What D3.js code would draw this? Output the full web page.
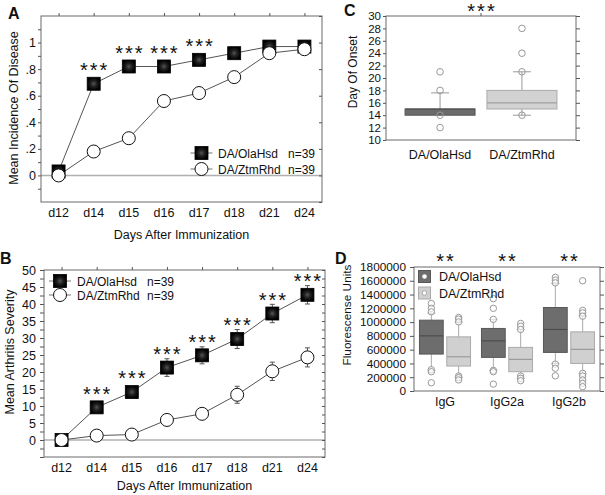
<!DOCTYPE html>
<html><head><meta charset="utf-8">
<script src="https://cdn.jsdelivr.net/npm/d3@7"></script>
<style>body{margin:0;background:#fff} svg text{font-family:"Liberation Sans",Arial,sans-serif;fill:#111}</style>
</head><body><svg id="c" width="605" height="495"></svg>
<script>
// ---------- DATA ----------
const days = ["d12","d14","d15","d16","d17","d18","d21","d24"];
const incOla = [0.03,0.69,0.82,0.82,0.87,0.92,0.97,0.97];
const incZtm = [0.0,0.18,0.28,0.56,0.62,0.74,0.92,0.95];
const incStars = ["","***","***","***","***","","",""];
const incTicks = [-0.1,0,0.1,0.2,0.3,0.4,0.5,0.6,0.7,0.8,0.9,1.0,1.1];
const incLabels = {"0":"0","0.2":".2","0.4":".4","0.6":".6","0.8":".8","1":"1"};

const sevOla = [0,9.6,14.1,21.3,24.9,29.7,37.2,42.7];
const sevOlaErr = [0,1.2,1.5,2.6,2.5,2.8,2.7,2.7];
const sevZtm = [0,1.3,1.6,5.9,7.7,13.3,20.2,24.3];
const sevZtmErr = [0,0.8,1.0,1.2,1.5,2.5,2.7,2.8];
const sevStars = ["","***","***","***","***","***","***","***"];
const sevTicks = [0,5,10,15,20,25,30,35,40,45,50];

const strains = ["DA/OlaHsd","DA/ZtmRhd"];
const legendN = ["n=39","n=39"];

const onsetQ1 = [14,15];
const onsetMed = [15,16];
const onsetQ3 = [15,18];
const onsetLo = [14,14];
const onsetHi = [17.6,21];
const onsetOut = [[21,18,14,12],[28,24,21,14]];
const onsetTicks = [10,12,14,16,18,20,22,24,26,28,30];

const isotypes = ["IgG","IgG2a","IgG2b"];
const olaQ1 = [536000,488000,560000];
const olaMed = [800000,728000,893000];
const olaQ3 = [1028000,908000,1212000];
const olaLo = [300000,300000,400000];
const olaHi = [1130000,1040000,1560000];
const olaOut = [[1270000,1200000,1150000,310000,280000,120000],
                [1340000,1200000,1040000,300000,280000,100000],
                [1650000,1610000,1570000,390000,330000,220000]];
const ztmQ1 = [362000,280000,400000];
const ztmMed = [497000,459000,604000];
const ztmQ3 = [786000,633000,859000];
const ztmLo = [200000,180000,250000];
const ztmHi = [1000000,890000,1090000];
const ztmOut = [[1067000,1043000,1003000,217000,193000,160000],
                [980000,940000,893000,217000,184000,149000],
                [1600000,1170000,1134000,1086000,256000,217000,159000,111000,62000]];
const fluoTicks = [0,200000,400000,600000,800000,1000000,1200000,1400000,1600000,1800000];
const isoStars = ["**","**","**"];

// ---------- DRAW ----------
const svg = d3.select("#c");
svg.append("rect").attr("width",605).attr("height",495).attr("fill","#fff");
const defs = svg.append("defs");
const rg = defs.append("radialGradient").attr("id","sqg");
rg.append("stop").attr("offset","0%").attr("stop-color","#555");
rg.append("stop").attr("offset","45%").attr("stop-color","#222");
rg.append("stop").attr("offset","100%").attr("stop-color","#000");

const FRAME = "#6a6a6a";
const STAR_FS = 20;
function frame(g,x0,x1,y0,y1){
  g.append("rect").attr("x",x0).attr("y",y0).attr("width",x1-x0).attr("height",y1-y0)
   .attr("fill","none").attr("stroke",FRAME).attr("stroke-width",1);
}
function styleAxis(g,fs){
  g.select(".domain").remove();
  g.attr("font-family","Liberation Sans, Arial, sans-serif").attr("font-size",fs).attr("color","#555");
  g.selectAll("text").attr("fill","#111");
}
function square(g,x,y,s){
  g.append("rect").attr("x",x-s/2).attr("y",y-s/2).attr("width",s).attr("height",s)
   .attr("fill","url(#sqg)").attr("stroke","#000").attr("stroke-width",0.8);
}
function circ(g,x,y,r){
  g.append("circle").attr("cx",x).attr("cy",y).attr("r",r).attr("fill","#fff").attr("stroke","#111").attr("stroke-width",1);
}
function star(g,x,yc,t){
  g.append("text").attr("x",x+1).attr("y",yc+0.57*STAR_FS).attr("text-anchor","middle")
   .attr("font-size",STAR_FS).attr("letter-spacing",2).attr("fill","#222").text(t);
}

function linePanel(o){
  const g = svg.append("g");
  const x = d3.scalePoint().domain(days).range([o.x0,o.x1]).padding(0.5);
  const y = d3.scaleLinear().domain(o.dom).range([o.y1,o.y0]);
  g.append("line").attr("x1",o.x0).attr("x2",o.x1).attr("y1",y(0)).attr("y2",y(0))
   .attr("stroke","#b0b0b0").attr("stroke-width",1.5);
  frame(g,o.x0,o.x1,o.y0,o.y1);
  const la = g.append("g").attr("transform",`translate(${o.x0},0)`)
    .call(d3.axisLeft(y).tickValues(o.ticks).tickSize(o.ts).tickPadding(o.tp).tickFormat(o.fmt));
  styleAxis(la,12.5);
  const ra = g.append("g").attr("transform",`translate(${o.x1},0)`)
    .call(d3.axisLeft(y).tickValues(o.rticks).tickSize(3).tickFormat(""));
  styleAxis(ra,12);
  const ta = g.append("g").attr("transform",`translate(0,${o.y0})`)
    .call(d3.axisTop(x).tickSize(3).tickFormat(""));
  styleAxis(ta,12);
  days.forEach(d=>g.append("text").attr("x",x(d)).attr("y",o.y1+15).attr("text-anchor","middle").attr("font-size",12.5).text(d));
  g.append("text").attr("x",(o.x0+o.x1)/2).attr("y",o.xty).attr("text-anchor","middle").attr("font-size",12.5).text("Days After Immunization");
  g.append("text").attr("transform",`translate(${o.ytx},${o.yty}) rotate(-90)`).attr("text-anchor","middle")
   .attr("font-size",12.5).text(o.ytitle);
  const ln = d3.line().x((v,i)=>x(days[i])).y(v=>y(v));
  g.append("path").attr("d",ln(o.ola)).attr("fill","none").attr("stroke","#555").attr("stroke-width",1);
  g.append("path").attr("d",ln(o.ztm)).attr("fill","none").attr("stroke","#555").attr("stroke-width",1);
  if(o.olaErr){
    [[o.ola,o.olaErr],[o.ztm,o.ztmErr]].forEach(([vals,errs])=>{
      vals.forEach((v,i)=>{
        const cx = x(days[i]);
        g.append("line").attr("x1",cx).attr("x2",cx).attr("y1",y(v-errs[i])).attr("y2",y(v+errs[i])).attr("stroke","#555");
        [v-errs[i],v+errs[i]].forEach(e=>g.append("line").attr("x1",cx-2.5).attr("x2",cx+2.5).attr("y1",y(e)).attr("y2",y(e)).attr("stroke","#555"));
      });
    });
  }
  o.ola.forEach((v,i)=>square(g,x(days[i]),y(v),13));
  o.ztm.forEach((v,i)=>circ(g,x(days[i]),y(v),6.5));
  o.stars.forEach((s,i)=>{ if(s) star(g,x(days[i]),y(o.ola[i])-18,s); });
  const L = o.leg;
  [0,1].forEach(k=>{
    const ly = L.y + k*L.dy;
    g.append("line").attr("x1",L.x-11).attr("x2",L.x+11).attr("y1",ly).attr("y2",ly).attr("stroke","#777");
    if(k===0) square(g,L.x,ly,13); else circ(g,L.x,ly,6.5);
    g.append("text").attr("x",L.tx).attr("y",ly+4.5).attr("font-size",12).text(strains[k]);
    g.append("text").attr("x",L.nx).attr("y",ly+4.5).attr("font-size",12).text(legendN[k]);
  });
  g.append("text").attr("x",o.lab[0]).attr("y",o.lab[1]).attr("font-size",16).attr("font-weight","bold").text(o.label);
}

linePanel({x0:41,x1:322,y0:16,y1:202,dom:[-0.2,1.2],ticks:incTicks,ts:3,tp:2,
  fmt:v=>incLabels[String(+v.toFixed(1))]||"", rticks:[-0.2,0,0.2,0.4,0.6,0.8,1.0,1.2],
  ola:incOla,ztm:incZtm,stars:incStars,ytitle:"Mean Incidence Of Disease",ytx:18,yty:108,xty:239,
  leg:{x:201.5,y:153,dy:16,tx:218,nx:288},label:"A",lab:[8,19]});

linePanel({x0:44,x1:325,y0:270,y1:457,dom:[-5,50],
  ticks:d3.range(-2,21).map(i=>i*2.5),ts:4,tp:4,
  fmt:v=>sevTicks.includes(v)?String(v):"", rticks:d3.range(-2,21).map(i=>i*2.5),
  ola:sevOla,ztm:sevZtm,olaErr:sevOlaErr,ztmErr:sevZtmErr,stars:sevStars,
  ytitle:"Mean Arthritis Severity",ytx:14,yty:352,xty:490,
  leg:{x:60,y:281,dy:14,tx:77,nx:147},label:"B",lab:[0,264]});

// ---------- Panel C ----------
(function(){
  const g = svg.append("g");
  const x0=386,x1=576,y0=16,y1=140;
  const x = d3.scalePoint().domain(strains).range([x0,x1]).padding(0.66);
  const y = d3.scaleLinear().domain([10,30]).range([y1,y0]);
  frame(g,x0,x1,y0,y1);
  const la = g.append("g").attr("transform",`translate(${x0},0)`).call(d3.axisLeft(y).tickValues(onsetTicks).tickSize(3).tickPadding(2));
  styleAxis(la,11.5);
  const ra = g.append("g").attr("transform",`translate(${x1},0)`).call(d3.axisRight(y).tickValues(onsetTicks).tickSize(4).tickFormat(""));
  styleAxis(ra,11.5);
  g.append("line").attr("x1",(x0+x1)/2).attr("x2",(x0+x1)/2).attr("y1",y0).attr("y2",y0-3).attr("stroke","#555");
  const fills=["#6b6b6b","#d2d2d2"], strokes=["#555","#aaa"], meds=["#505050","#a0a0a0"];
  const bw=70;
  strains.forEach((s,i)=>{
    const cx=x(s);
    g.append("line").attr("x1",cx).attr("x2",cx).attr("y1",y(onsetQ3[i])).attr("y2",y(onsetHi[i])).attr("stroke","#9a9a9a");
    g.append("line").attr("x1",cx).attr("x2",cx).attr("y1",y(onsetQ1[i])).attr("y2",y(onsetLo[i])).attr("stroke","#9a9a9a");
    [onsetHi[i],onsetLo[i]].forEach(v=>{ if(v!==onsetQ1[i]||i===1) g.append("line").attr("x1",cx-9).attr("x2",cx+9).attr("y1",y(v)).attr("y2",y(v)).attr("stroke","#9a9a9a");});
    g.append("rect").attr("x",cx-bw/2).attr("y",y(onsetQ3[i])).attr("width",bw).attr("height",y(onsetQ1[i])-y(onsetQ3[i]))
      .attr("fill",fills[i]).attr("stroke",strokes[i]);
    g.append("line").attr("x1",cx-bw/2).attr("x2",cx+bw/2).attr("y1",y(onsetMed[i])).attr("y2",y(onsetMed[i])).attr("stroke",meds[i]).attr("stroke-width",1.2);
    onsetOut[i].forEach(v=>g.append("circle").attr("cx",cx).attr("cy",y(v)).attr("r",3.3).attr("fill","none").attr("stroke","#999"));
    g.append("text").attr("x",cx).attr("y",y1+19).attr("text-anchor","middle").attr("font-size",12.5).text(s);
  });
  star(g,(x0+x1)/2,6.5,"***");
  g.append("text").attr("transform",`translate(357,72) rotate(-90)`).attr("text-anchor","middle").attr("font-size",12).text("Day Of Onset");
  g.append("text").attr("x",344).attr("y",16).attr("font-size",16).attr("font-weight","bold").text("C");
})();

// ---------- Panel D ----------
(function(){
  const g = svg.append("g");
  const x0=414,x1=600,y0=267,y1=391;
  const x = d3.scaleBand().domain(isotypes).range([x0,x1]);
  const sub = d3.scaleBand().domain(strains).range([0,x.bandwidth()]).paddingInner(0.13).paddingOuter(0.2);
  const y = d3.scaleLinear().domain([0,1800000]).range([y1,y0]);
  frame(g,x0,x1,y0,y1);
  const la = g.append("g").attr("transform",`translate(${x0},0)`).call(d3.axisLeft(y).tickValues(fluoTicks).tickSize(4).tickPadding(4).tickFormat(d3.format("d")));
  styleAxis(la,11.8);
  const ra = g.append("g").attr("transform",`translate(${x1},0)`).call(d3.axisRight(y).tickValues(fluoTicks).tickSize(4).tickFormat(""));
  styleAxis(ra,11.5);
  const fills=["#6d6d6d","#d0d0d0"], strokes=["#585858","#aaa"], meds=["#4c4c4c","#9c9c9c"];
  const sets=[[olaQ1,olaMed,olaQ3,olaLo,olaHi,olaOut],[ztmQ1,ztmMed,ztmQ3,ztmLo,ztmHi,ztmOut]];
  isotypes.forEach((iso,j)=>{
    strains.forEach((s,k)=>{
      const [q1,md,q3,lo,hi,out]=sets[k];
      const bx = x(iso)+sub(s), bw=sub.bandwidth(), cx=bx+bw/2;
      g.append("line").attr("x1",cx).attr("x2",cx).attr("y1",y(q3[j])).attr("y2",y(hi[j])).attr("stroke","#aaa");
      g.append("line").attr("x1",cx).attr("x2",cx).attr("y1",y(q1[j])).attr("y2",y(lo[j])).attr("stroke","#aaa");
      [hi[j],lo[j]].forEach(v=>g.append("line").attr("x1",cx-4).attr("x2",cx+4).attr("y1",y(v)).attr("y2",y(v)).attr("stroke","#aaa"));
      g.append("rect").attr("x",bx).attr("y",y(q3[j])).attr("width",bw).attr("height",y(q1[j])-y(q3[j]))
        .attr("fill",fills[k]).attr("stroke",strokes[k]);
      g.append("line").attr("x1",bx).attr("x2",bx+bw).attr("y1",y(md[j])).attr("y2",y(md[j])).attr("stroke",meds[k]).attr("stroke-width",1.2);
      out[j].forEach(v=>g.append("circle").attr("cx",cx).attr("cy",y(v)).attr("r",3.2).attr("fill","#fff").attr("fill-opacity",0.6).attr("stroke","#999"));
    });
    const gc = x(iso)+x.bandwidth()/2;
    g.append("text").attr("x",gc).attr("y",y1+15).attr("text-anchor","middle").attr("font-size",12.5).text(iso);
    star(g,gc,257,isoStars[j]);
  });
  strains.forEach((s,k)=>{
    const ly = 270.5 + k*16.5;
    g.append("rect").attr("x",418.5).attr("y",ly).attr("width",12).attr("height",12).attr("fill",fills[k]).attr("stroke",strokes[k]);
    g.append("circle").attr("cx",424.5).attr("cy",ly+6).attr("r",2.3).attr("fill","#fff").attr("stroke",k?"#aaa":"none");
    g.append("text").attr("x",439).attr("y",ly+10.5).attr("font-size",12.5).text(s);
  });
  g.append("text").attr("transform",`translate(351,315) rotate(-90)`).attr("text-anchor","middle").attr("font-size",11.8).text("Fluorescense Units");
  g.append("text").attr("x",335).attr("y",264).attr("font-size",16).attr("font-weight","bold").text("D");
})();
</script></body></html>
